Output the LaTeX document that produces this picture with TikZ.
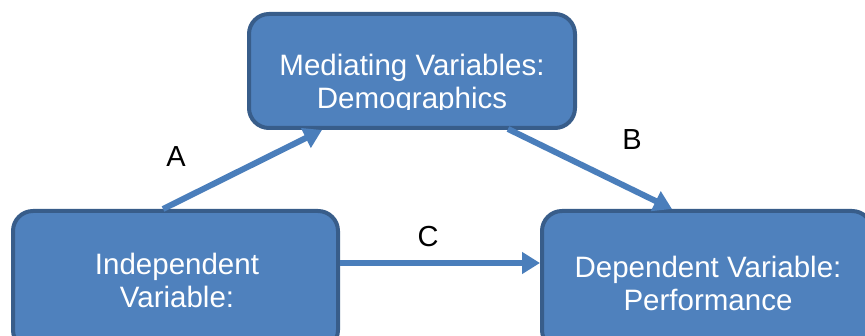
\documentclass[tikz,border=0pt]{standalone}
\usepackage{fontspec}
\setmainfont{Liberation Sans}
\usetikzlibrary{arrows.meta}
\definecolor{boxfill}{HTML}{4F81BD}
\definecolor{boxline}{HTML}{385D8A}
\definecolor{arrowblue}{HTML}{4A7EBB}
\tikzset{
  varbox/.style={draw=boxline, fill=boxfill, line width=4pt, rounded corners=20pt,
    inner sep=0pt, rectangle},
  boxtext/.style={text=white, align=center, inner sep=0pt,
    font=\fontsize{29.5}{33}\selectfont},
  pathlabel/.style={text=black, inner sep=0pt, font=\fontsize{29}{33}\selectfont},
  link/.style={draw=arrowblue, line width=6pt,
    -{Triangle[length=18pt,width=21pt]}}
}
\begin{document}
\begin{tikzpicture}[x=1pt,y=1pt]
\clip (0,0) rectangle (865,336);
% boxes
\node[varbox, minimum width=326pt, minimum height=114pt] (med) at (412,265) {};
\node[varbox, minimum width=325pt, minimum height=139pt] (ind) at (175.5,55.5) {};
\node[varbox, minimum width=330pt, minimum height=139pt] (dep) at (707,55.5) {};
% box texts
\begin{scope}
\clip (0,226) rectangle (865,336);
\node[boxtext] (medtext) at (412,251.5) {Mediating Variables:\\Demographics};
\end{scope}
\node[boxtext] (indtext) at (177,55.5) {Independent\\Variable:};
\node[boxtext] (deptext) at (708,52.5) {Dependent Variable:\\Performance};
% connectors
\draw[link] ([xshift=-12.5pt]ind.north) -- ([xshift=-90pt]med.south);
\draw[link] ([xshift=96pt,yshift=1pt]med.south) -- ([xshift=-35pt]dep.north);
\draw[link] ([yshift=17.5pt]ind.east) -- ([yshift=17.5pt]dep.west);
% labels
\node[pathlabel] (labA) at (176,179) {A};
\node[pathlabel] (labB) at (632,196) {B};
\node[pathlabel] (labC) at (428,99) {C};
\end{tikzpicture}
\end{document}
